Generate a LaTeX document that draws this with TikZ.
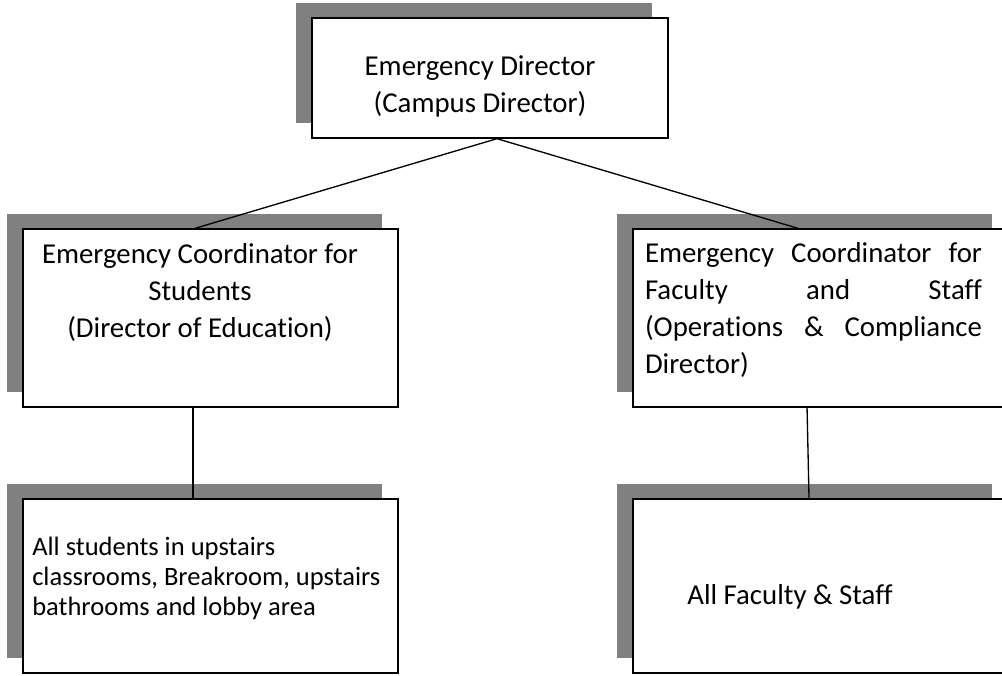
\documentclass[tikz,border=0pt]{standalone}
\usepackage{fontspec}
\setmainfont{Carlito}[Ligatures=NoCommon]
\usetikzlibrary{shadows}
\definecolor{shadowgray}{RGB}{128,128,128}
\newcommand{\bigtxt}{\fontsize{21.6}{27.75}\selectfont}
\newcommand{\smalltxt}{\fontsize{19.9}{22.5}\selectfont}
\tikzset{
  orgbox/.style={draw, line width=1pt, fill=white,
    drop shadow={shadow xshift=-12pt, shadow yshift=11.25pt, fill=shadowgray, opacity=1}},
  txt/.style={inner sep=0pt},
  conn/.style={line width=1pt}
}
\begin{document}
\begin{tikzpicture}[x=0.75pt,y=-0.75pt]
\clip (0,0) rectangle (1002,675);
% boxes
\node[orgbox, minimum width=267pt, minimum height=90pt] (dir) at (490,78) {};
\node[orgbox, minimum width=281.25pt, minimum height=133.5pt] (stud) at (210.5,318) {};
\node[orgbox, minimum width=281.25pt, minimum height=133.5pt] (staff) at (820.5,318) {};
\node[orgbox, minimum width=281.25pt, minimum height=130.5pt] (studall) at (210.5,586) {};
\node[orgbox, minimum width=281.25pt, minimum height=130.5pt] (staffall) at (820.5,586) {};
% texts
\node[txt, font=\bigtxt, align=center] (dirtxt) at (480,86) {Emergency Director\\(Campus Director)};
\node[txt, font=\bigtxt, align=center] (studtxt) at (200,292) {Emergency Coordinator for\\Students\\(Director of Education)};
\node[txt, font=\bigtxt, text width=252.75pt, align=justify] (stafftxt) at (813.5,310)
  {Emergency Coordinator for\linebreak Faculty and Staff\linebreak (Operations \& Compliance\linebreak Director)};
\node[txt, font=\smalltxt, align=left, anchor=west] (studalltxt) at (32,578) {All students in upstairs\\classrooms, Breakroom, upstairs\\bathrooms and lobby area};
\node[txt, font=\bigtxt] (staffalltxt) at (790,597) {All Faculty \& Staff};
% connectors
\draw[conn] ([xshift=5.25pt]dir.south) -- ([xshift=-11.6pt]stud.north);
\draw[conn] ([xshift=5.25pt]dir.south) -- ([xshift=-16.9pt]staff.north);
\draw[conn] ([xshift=-13.1pt]stud.south) -- ([xshift=-13.1pt]studall.north);
\draw[conn] ([xshift=-10.1pt]staff.south) -- ([xshift=-8.6pt]staffall.north);
\end{tikzpicture}
\end{document}
